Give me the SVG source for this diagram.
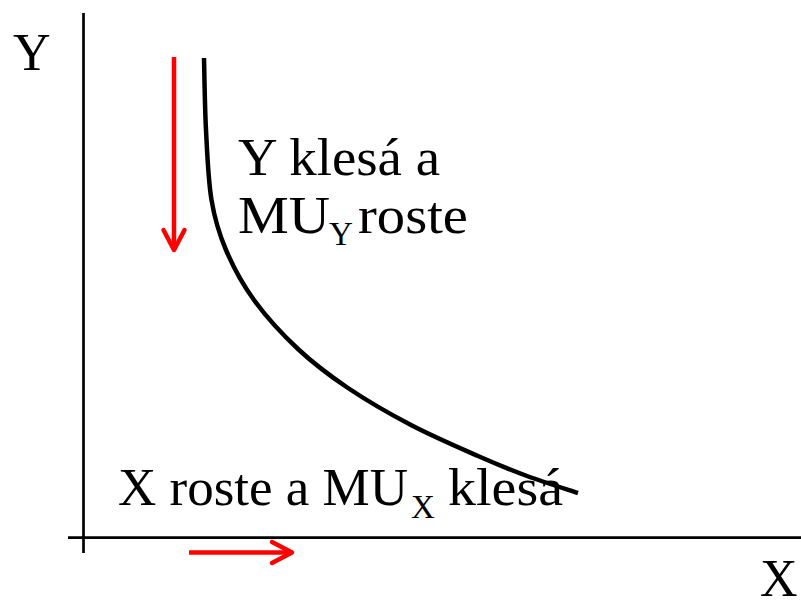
<svg xmlns="http://www.w3.org/2000/svg" width="801" height="608" viewBox="0 0 801 608">
  <style>
    .t { font-family: "Liberation Serif", "Times New Roman", serif; font-size: 52px; fill: #000; }
    .sub { font-size: 33px; }
    .axis { stroke: #000; stroke-width: 2.7; fill: none; }
    .curve { stroke: #000; stroke-width: 4.5; fill: none; stroke-linecap: butt; }
    .red { stroke: #ff0000; stroke-width: 4.5; fill: none; }
  </style>
  <defs>
    <marker id="head" markerUnits="userSpaceOnUse" markerWidth="30" markerHeight="30" viewBox="-26 -15 30 30" refX="0" refY="0" orient="auto">
      <path d="M-20,-10.5 L0,0 L-20,10.5" fill="none" stroke="#ff0000" stroke-width="4.5" stroke-linecap="round" stroke-linejoin="round"/>
    </marker>
  </defs>
  <rect width="801" height="608" fill="#ffffff"/>
  <g id="axes">
    <line class="axis" x1="83.5" y1="13" x2="83.5" y2="553"/>
    <line class="axis" x1="68" y1="537.7" x2="801" y2="537.7"/>
  </g>
  <g id="axis-label-y"><text class="t" x="13" y="70">Y</text></g>
  <g id="axis-label-x"><text class="t" x="760" y="596">X</text></g>
  <g id="curve">
    <path class="curve" d="M204,58 C204.33,70 204.75,106.33 206,130 C207.25,153.67 208.17,180 211.5,200 C214.83,220 218.92,233.33 226,250 C233.08,266.67 242,283.5 254,300 C266,316.5 282.33,334.33 298,349 C313.67,363.67 329.17,375.33 348,388 C366.83,400.67 389.33,413.67 411,425 C432.67,436.33 458.67,447.5 478,456 C497.33,464.5 510.33,469.83 527,476 C543.67,482.170 569.5,490.17 578,493"/>
  </g>
  <g id="connectors">
    <line class="red" x1="174" y1="57" x2="174" y2="250" marker-end="url(#head)"/>
    <line class="red" x1="189" y1="552.5" x2="292" y2="552.5" marker-end="url(#head)"/>
  </g>
  <g id="label-y">
    <text class="t" x="238" y="175" textLength="202" lengthAdjust="spacingAndGlyphs">Y klesá a</text>
    <text class="t" x="238" y="233" textLength="92" lengthAdjust="spacingAndGlyphs">MU</text>
    <text class="t sub" x="329" y="245">Y</text>
    <text class="t" x="358" y="233" textLength="110" lengthAdjust="spacingAndGlyphs">roste</text>
  </g>
  <g id="label-x">
    <text class="t" x="118" y="505" textLength="290" lengthAdjust="spacingAndGlyphs">X roste a MU</text>
    <text class="t sub" x="411" y="518">X</text>
    <text class="t" x="448" y="505" textLength="115" lengthAdjust="spacingAndGlyphs">klesá</text>
  </g>
</svg>
